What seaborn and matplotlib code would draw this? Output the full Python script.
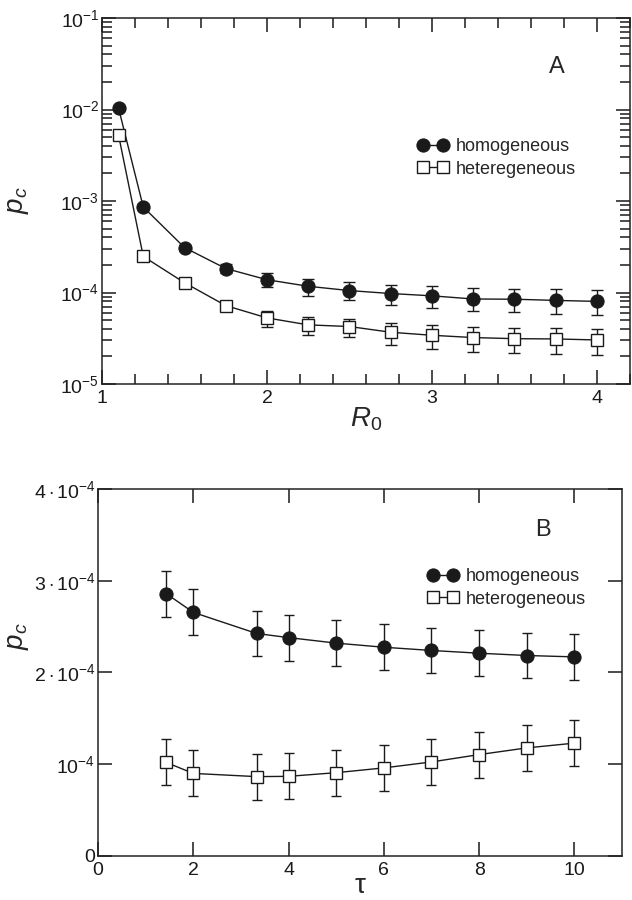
import numpy as np
import pandas as pd
import seaborn as sns
import matplotlib.pyplot as plt
from matplotlib.ticker import LogLocator, MultipleLocator, NullFormatter, FixedLocator

# Panel A data
r0 = [1.1, 1.25, 1.5, 1.75, 2.0, 2.25, 2.5, 2.75, 3.0, 3.25, 3.5, 3.75, 4.0]
hom_a = [1.04e-2, 8.6e-4, 3.1e-4, 1.83e-4, 1.38e-4, 1.17e-4, 1.05e-4, 9.75e-5, 9.2e-5, 8.5e-5, 8.45e-5, 8.2e-5, 8.0e-5]
hom_a_hi = [1.1e-2, 9.2e-4, 3.3e-4, 2.03e-4, 1.64e-4, 1.42e-4, 1.31e-4, 1.21e-4, 1.17e-4, 1.11e-4, 1.10e-4, 1.08e-4, 1.06e-4]
hom_a_lo = [9.8e-3, 8.0e-4, 2.9e-4, 1.64e-4, 1.15e-4, 9.27e-5, 8.24e-5, 7.39e-5, 6.74e-5, 6.25e-5, 6.14e-5, 5.89e-5, 5.65e-5]
het_a = [5.28e-3, 2.48e-4, 1.28e-4, 7.2e-5, 5.28e-5, 4.43e-5, 4.25e-5, 3.68e-5, 3.41e-5, 3.22e-5, 3.13e-5, 3.11e-5, 3.03e-5]
het_a_hi = [5.5e-3, 2.6e-4, 1.34e-4, 7.9e-5, 6.25e-5, 5.42e-5, 5.19e-5, 4.65e-5, 4.46e-5, 4.21e-5, 4.10e-5, 4.10e-5, 4.0e-5]
het_a_lo = [5.0e-3, 2.36e-4, 1.22e-4, 6.4e-5, 4.25e-5, 3.44e-5, 3.27e-5, 2.70e-5, 2.44e-5, 2.24e-5, 2.18e-5, 2.15e-5, 2.06e-5]

# Panel B data
tau = [1.43, 2, 3.33, 4, 5, 6, 7, 8, 9, 10]
hom_b = [2.86e-4, 2.655e-4, 2.425e-4, 2.38e-4, 2.32e-4, 2.275e-4, 2.24e-4, 2.21e-4, 2.185e-4, 2.17e-4]
het_b = [1.02e-4, 0.90e-4, 0.865e-4, 0.868e-4, 0.908e-4, 0.96e-4, 1.025e-4, 1.105e-4, 1.178e-4, 1.23e-4]
err_b = [0.25e-4] * 10

b_ticks = [0, 1e-4, 2e-4, 3e-4, 4e-4]
b_ticklabels = ['0', r'$10^{-4}$', r'$2\cdot10^{-4}$', r'$3\cdot10^{-4}$', r'$4\cdot10^{-4}$']

sns.set_theme(style='ticks')
plt.rcParams['font.family'] = ['Liberation Sans', 'DejaVu Sans']
plt.rcParams['mathtext.fontset'] = 'custom'
plt.rcParams['mathtext.rm'] = 'Liberation Sans'
plt.rcParams['mathtext.it'] = 'Liberation Sans:italic'
plt.rcParams['axes.linewidth'] = 1.1
plt.rcParams['axes.edgecolor'] = '#222222'

fig = plt.figure(figsize=(6.32, 9.0), dpi=100)
ax1 = fig.add_axes([0.1614, 0.5733, 0.8354, 0.4067])
ax2 = fig.add_axes([0.1551, 0.0489, 0.8291, 0.4078])

circ = dict(color='k', marker='o', markersize=9.5, markeredgecolor='k', markerfacecolor='k',
            linewidth=1, zorder=3)
sq = dict(color='k', marker='s', markersize=8, markeredgecolor='k', markerfacecolor='white',
          markeredgewidth=1, linewidth=1, zorder=3)

# Panel A
df_a = pd.DataFrame({'R0': r0, 'hom': hom_a, 'het': het_a})
ax1.errorbar(r0, hom_a, yerr=[np.array(hom_a) - np.array(hom_a_lo), np.array(hom_a_hi) - np.array(hom_a)],
             fmt='none', ecolor='k', elinewidth=1, capsize=4.5, capthick=1, zorder=1)
ax1.errorbar(r0, het_a, yerr=[np.array(het_a) - np.array(het_a_lo), np.array(het_a_hi) - np.array(het_a)],
             fmt='none', ecolor='k', elinewidth=1, capsize=4.5, capthick=1, zorder=1)
sns.lineplot(data=df_a, x='R0', y='hom', ax=ax1, label='homogeneous', **circ)
sns.lineplot(data=df_a, x='R0', y='het', ax=ax1, label='heteregeneous', **sq)

ax1.set_yscale('log')
ax1.set_xlim(1, 4.2)
ax1.set_ylim(1e-5, 1e-1)
ax1.xaxis.set_major_locator(FixedLocator([1, 2, 3, 4]))
ax1.xaxis.set_minor_locator(MultipleLocator(0.2))
ax1.yaxis.set_major_locator(LogLocator(base=10, numticks=10))
ax1.yaxis.set_minor_locator(LogLocator(base=10, subs=np.arange(2, 10), numticks=10))
ax1.yaxis.set_minor_formatter(NullFormatter())
ax1.set_xlabel(r'$R_\mathit{0}$', fontsize=20)
ax1.set_ylabel(r'$p_c$', fontsize=20)
ax1.xaxis.set_label_coords(0.5, -0.06)
ax1.yaxis.set_label_coords(-0.135, 0.503)
ax1.text(0.862, 0.866, 'A', transform=ax1.transAxes, fontsize=17, ha='center', va='center')
ax1.legend(loc='center left', bbox_to_anchor=(0.597, 0.618), frameon=False, fontsize=13,
           numpoints=2, handlelength=1.75, handletextpad=0.4, labelspacing=0.3, borderpad=0,
           borderaxespad=0)

# Panel B
df_b = pd.DataFrame({'tau': tau, 'hom': hom_b, 'het': het_b})
ax2.errorbar(tau, hom_b, yerr=err_b, fmt='none', ecolor='k', elinewidth=1, capsize=3.5,
             capthick=1, zorder=1)
ax2.errorbar(tau, het_b, yerr=err_b, fmt='none', ecolor='k', elinewidth=1, capsize=3.5,
             capthick=1, zorder=1)
sns.lineplot(data=df_b, x='tau', y='hom', ax=ax2, label='homogeneous', **circ)
sns.lineplot(data=df_b, x='tau', y='het', ax=ax2, label='heterogeneous', **sq)

ax2.set_xlim(0, 11)
ax2.set_ylim(0, 4e-4)
ax2.set_xticks([0, 2, 4, 6, 8, 10])
ax2.set_yticks(b_ticks)
ax2.set_yticklabels(b_ticklabels)
ax2.set_xlabel('\u03c4', fontsize=20)
ax2.set_ylabel(r'$p_c$', fontsize=20)
ax2.xaxis.set_label_coords(0.5, -0.045)
ax2.yaxis.set_label_coords(-0.128, 0.6)
ax2.text(0.85, 0.888, 'B', transform=ax2.transAxes, fontsize=17, ha='center', va='center')
ax2.legend(loc='center left', bbox_to_anchor=(0.628, 0.73), frameon=False, fontsize=13,
           numpoints=2, handlelength=1.75, handletextpad=0.4, labelspacing=0.3, borderpad=0,
           borderaxespad=0)

for ax in (ax1, ax2):
    ax.tick_params(which='both', direction='in', top=True, right=True, colors='k',
                   labelsize=14, width=1.1)
    ax.tick_params(which='major', length=10, pad=4)
    ax.tick_params(which='minor', length=7)
    ax.tick_params(axis='y', which='major', pad=2)

fig.savefig('out.png', dpi=100)
